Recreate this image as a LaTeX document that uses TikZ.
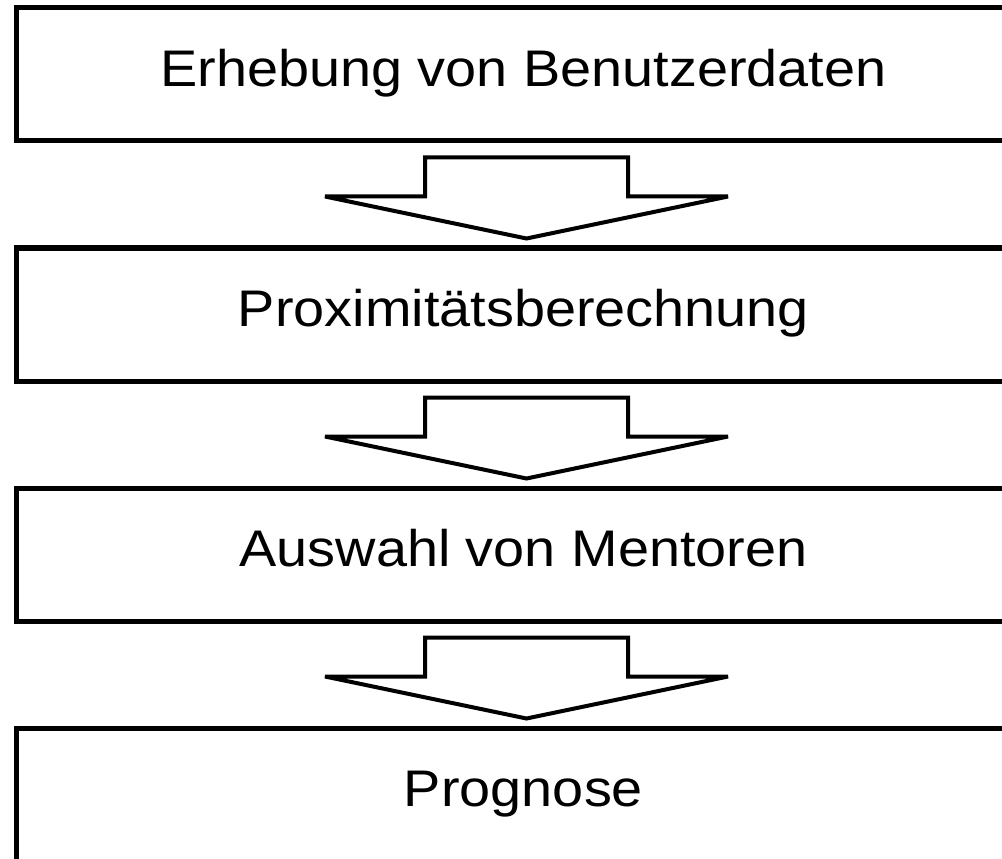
\documentclass[tikz,border=0pt]{standalone}
\usepackage{fontspec}
\setmainfont{Liberation Sans}
\newfontfamily\boxfont[FakeStretch=1.085]{Liberation Sans}
\usetikzlibrary{calc}
\begin{document}
\begin{tikzpicture}[x=0.75pt,y=-0.75pt,
  stagebox/.style={draw=black,line width=3.75pt,fill=white,
    minimum width=760.5pt,minimum height=99.75pt,inner sep=0pt,
    font=\boxfont\fontsize{38.6}{46}\selectfont,text height=27.64pt,text depth=8.96pt},
  blockarrow/.style={draw=black,line width=3pt,fill=white,line join=miter,miter limit=2}]
\useasboundingbox (0,0) rectangle (1002,859);
\node[stagebox] (b1) at (523.5,74.5) {Erhebung von Benutzerdaten};
\node[stagebox] (b2) at (523.5,314.5) {Proximitätsberechnung};
\node[stagebox] (b3) at (523.5,554.5) {Auswahl von Mentoren};
\node[stagebox] (b4) at (523.5,794.5) {Prognose};
% hollow block arrows between consecutive stages
\foreach \a in {b1,b2,b3}{
  \coordinate (o) at ($(\a.south)+(3,0)$);
  \draw[blockarrow] ($(o)+(-201.5,53)$) -- ($(o)+(-101.5,53)$) -- ($(o)+(-101.5,14)$)
    -- ($(o)+(101.5,14)$) -- ($(o)+(101.5,53)$) -- ($(o)+(201.5,53)$)
    -- ($(o)+(0,95)$) -- cycle;
}
\end{tikzpicture}
\end{document}
